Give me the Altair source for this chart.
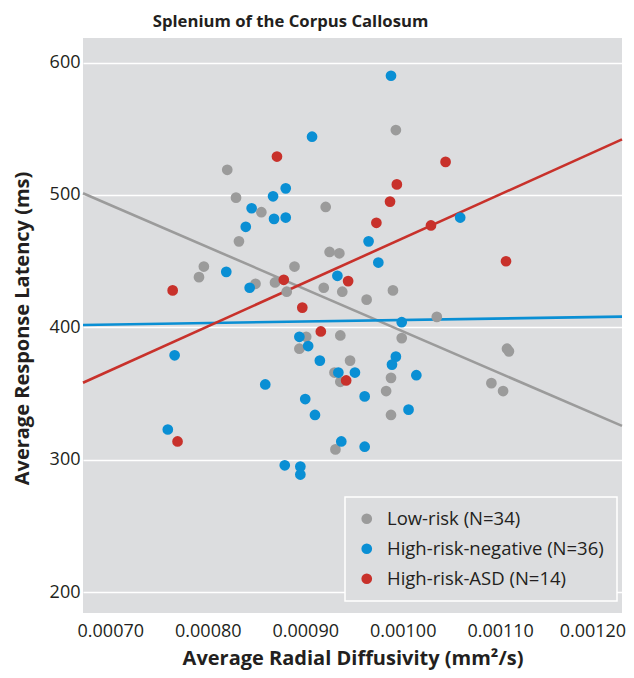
import altair as alt
import pandas as pd

groups = ["Low-risk (N=34)", "High-risk-negative (N=36)", "High-risk-ASD (N=14)"]
colors = ["#9b9b9b", "#0a8fd4", "#c8312b"]
bg = "#dcdddf"
ink = "#231f20"

low_x = [0.000820, 0.000829, 0.000855, 0.000921, 0.000832, 0.000993, 0.000925, 0.000935,
         0.000796, 0.000791, 0.000889, 0.000849, 0.000869, 0.000881, 0.000919, 0.000938,
         0.000901, 0.000894, 0.000936, 0.000946, 0.000930, 0.000936, 0.000990, 0.000963,
         0.001035, 0.000999, 0.001107, 0.001109, 0.000988, 0.000983, 0.001091, 0.001103,
         0.000988, 0.000931]
low_y = [519, 498, 487, 491, 465, 549, 457, 456, 446, 438, 446, 433, 434, 427, 430, 427,
         393, 384, 394, 375, 366, 359, 428, 421, 408, 392, 384, 382, 362, 352, 358, 352,
         334, 308]

neg_x = [0.000907, 0.000880, 0.000867, 0.000845, 0.000868, 0.000880, 0.000839, 0.000988,
         0.001059, 0.000965, 0.000819, 0.000933, 0.000843, 0.000894, 0.000903, 0.000766,
         0.000915, 0.000934, 0.000951, 0.000859, 0.000900, 0.000910, 0.000759, 0.000975,
         0.000999, 0.000993, 0.000989, 0.001014, 0.000961, 0.001006, 0.000937, 0.000879,
         0.000895, 0.000895, 0.000961]
neg_y = [544, 505, 499, 490, 482, 483, 476, 590, 483, 465, 442, 439, 430, 393, 386, 379,
         375, 366, 366, 357, 346, 334, 323, 449, 404, 378, 372, 364, 348, 338, 314, 296,
         295, 289, 310]

asd_x = [0.000871, 0.001044, 0.000994, 0.000987, 0.000973, 0.001029, 0.000944, 0.000878,
         0.000764, 0.000897, 0.000916, 0.000942, 0.001106, 0.000769]
asd_y = [529, 525, 508, 495, 479, 477, 435, 436, 428, 415, 397, 360, 450, 314]

fit_x = [0.000672, 0.001225]
fit_low = [501.3, 325.7]
fit_neg = [401.9, 408.2]
fit_asd = [358.3, 542.0]

x_ticks = [0.0007, 0.0008, 0.0009, 0.0010, 0.0011, 0.0012]
y_ticks = [200, 300, 400, 500, 600]

rows = []
for g, xs, ys in zip(groups, [low_x, neg_x, asd_x], [low_y, neg_y, asd_y]):
    for a, b in zip(xs, ys):
        rows.append({"group": g, "x": a, "y": b})
pts = pd.DataFrame(rows)

x_enc = alt.X("x:Q",
              scale=alt.Scale(domain=[0.000672, 0.001225], nice=False, zero=False),
              axis=alt.Axis(values=x_ticks, format=".5f", grid=False, ticks=False, tickSize=0,
                            domain=False, labelPadding=9, labelFontSize=18, labelFont="Open Sans",
                            labelColor=ink, labelFlush=26, labelFlushOffset=28,
                            title="Average Radial Diffusivity (mm²/s)",
                            titleFontSize=20, titleFont="Open Sans", titleFontWeight="bold",
                            titleColor=ink, titleX=269.5, titleY=51, titleAlign="center",
                            titleBaseline="alphabetic"))
y_enc = alt.Y("y:Q",
              scale=alt.Scale(domain=[184.5, 618.5], nice=False, zero=False),
              axis=alt.Axis(values=y_ticks, grid=True, gridColor="white", gridWidth=1.5,
                            ticks=False, tickSize=0, domain=False, labelPadding=3,
                            labelFontSize=18, labelFont="Open Sans", labelColor=ink,
                            title="Average Response Latency (ms)", titleFontSize=20,
                            titleFont="Open Sans", titleFontWeight="bold", titleColor=ink,
                            titleAngle=270, titleX=-55, titleY=290, titleAlign="center",
                            titleBaseline="alphabetic"))

line_layers = []
for g, fy, c in zip(groups, [fit_low, fit_neg, fit_asd], colors):
    fdf = pd.DataFrame({"x": fit_x, "y": fy})
    line_layers.append(
        alt.Chart(fdf).mark_line(strokeWidth=2.6, color=c).encode(x=x_enc, y=y_enc)
    )

points = alt.Chart(pts).mark_circle(size=115, opacity=1).encode(
    x=x_enc, y=y_enc,
    color=alt.Color("group:N", scale=alt.Scale(domain=groups, range=colors),
                    legend=alt.Legend(title=None, orient="none", legendX=262, legendY=459,
                                      padding=12.5, rowPadding=11, strokeColor="white",
                                      fillColor=bg, symbolType="circle", symbolSize=115,
                                      symbolStrokeWidth=0, symbolOpacity=1, labelFontSize=18.5,
                                      labelFont="Open Sans", labelColor=ink, labelOffset=11,
                                      labelLimit=400)),
)

chart = alt.layer(*line_layers, points).properties(
    width=539, height=575,
    padding={"left": 75, "top": 30, "right": 4, "bottom": 57},
    autosize=alt.AutoSizeParams(type="none"),
    title=alt.TitleParams("Splenium of the Corpus Callosum", fontSize=16.7, fontWeight="bold",
                          font="Open Sans", color=ink, anchor="middle", dx=-62, offset=7),
).configure_view(fill=bg, strokeWidth=0).configure_legend(strokeWidth=1.5)

chart.save("out.html", embed_options={"renderer": "svg", "actions": False})
